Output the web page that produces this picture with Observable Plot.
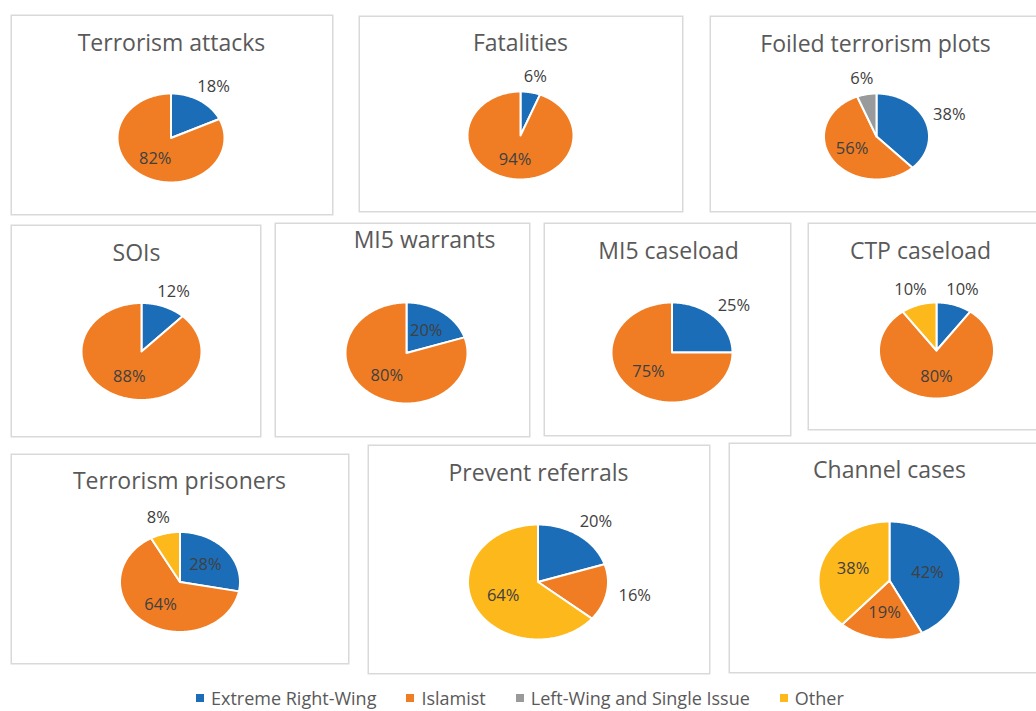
<!DOCTYPE html>
<html><head><meta charset="utf-8">
<script src="https://cdn.jsdelivr.net/npm/d3@7"></script>
<script src="https://cdn.jsdelivr.net/npm/@observablehq/plot@0.6"></script>
<style>
html,body{margin:0;padding:0;background:#fff;width:1036px;height:711px;overflow:hidden;}
#root{position:relative;width:1036px;height:711px;overflow:hidden;font-family:"Open Sans",sans-serif;}
.box{position:absolute;}
.box svg{display:block;overflow:visible;max-width:none !important;}
.box g[aria-label="title"] text{letter-spacing:0.6px;}
.box g[aria-label="pie label"] text{letter-spacing:1px;}
#legend{position:absolute;left:196px;top:681px;white-space:nowrap;}
.lg-swatch{margin-right:30px !important;}
.lg-swatch > svg{margin-right:7px !important;}
</style></head><body><div id="root"></div>
<script>
// ---- data ----
const categories = ["Extreme Right-Wing", "Islamist", "Left-Wing and Single Issue", "Other"];
const colors = ["#1B6DB7", "#F07D24", "#989A9B", "#FDB81C"];
const chartTitles = ["Terrorism attacks", "Fatalities", "Foiled terrorism plots", "SOIs", "MI5 warrants",
  "MI5 caseload", "CTP caseload", "Terrorism prisoners", "Prevent referrals", "Channel cases"];
// shares (%) per chart, null = category not shown
const extremeRightWing    = [18,  6, 38, 12, 20, 25, 10, 28, 20, 42];
const islamist            = [82, 94, 56, 88, 80, 75, 80, 64, 16, 19];
const leftWingSingleIssue = [null, null, 6, null, null, null, null, null, null, null];
const other               = [null, null, null, null, null, null, 10, 8, 64, 38];
const series = [extremeRightWing, islamist, leftWingSingleIssue, other];

// ---- layout (page pixels): box [x,y,w,h], pie [cx,cy,rx,ry], title centre, outside-label flags ----
const layout = [
  {box:[10,14,323,201],  pie:[170.5,137.5,53.5,44.5], title:[171,43],  outside:[1,0,1,1]},
  {box:[358,15,325,197], pie:[520,135,53,44],         title:[520,43],  outside:[1,0,1,1]},
  {box:[709,15,340,197], pie:[876,136,52.5,43],       title:[875,44],  outside:[1,0,1,1]},
  {box:[10,224,251,213], pie:[141,351,60,48.5],       title:[136,253], outside:[1,0,1,1]},
  {box:[274,222,256,215],pie:[406,352.5,61,50.5],     title:[424,240], outside:[0,0,1,1]},
  {box:[543,222,248,214],pie:[671.5,352,60.5,50],     title:[668,251], outside:[1,0,1,1]},
  {box:[807,222,245,208],pie:[936,350,57.5,48],       title:[920,251], outside:[1,0,1,1]},
  {box:[10,453,339,211], pie:[179.5,581.5,60,50],     title:[179,481], outside:[0,0,1,1]},
  {box:[367,444,343,230],pie:[537.5,581.5,70,57.5],   title:[538,473], outside:[1,1,1,0]},
  {box:[728,442,325,231],pie:[889,580,71,59],         title:[889,470], outside:[0,0,0,0]}
];

const root = document.getElementById("root");

layout.forEach((L, i) => {
  const [bx, by, bw, bh] = L.box;
  const [cx, cy, rx, ry] = L.pie;
  const rcx = cx - bx, rcy = cy - by;
  const vals = categories.map((c, k) => ({cat: c, k, value: series[k][i]})).filter(d => d.value != null);
  const arcs = d3.pie().sort(null).value(d => d.value)(vals);
  const poly = [];
  arcs.forEach(a => {
    const n = Math.max(3, Math.ceil((a.endAngle - a.startAngle) / (Math.PI / 180)));
    poly.push({cat: a.data.cat, x: 0, y: 0});
    for (let j = 0; j <= n; j++) {
      const t = a.startAngle + (a.endAngle - a.startAngle) * j / n;
      poly.push({cat: a.data.cat, x: Math.sin(t), y: Math.cos(t)});
    }
    poly.push({cat: a.data.cat, x: 0, y: 0});
  });
  const labels = arcs.map(a => {
    const m = (a.startAngle + a.endAngle) / 2, s = Math.sin(m), c = Math.cos(m);
    let x, y;
    if (L.outside[a.data.k]) {
      x = 1.15 * s + (18 / rx) * s;
      y = 1.15 * c + (9 / ry) * c;
    } else {
      x = 0.55 * s; y = 0.55 * c;
    }
    return {x, y, text: a.data.value + "%"};
  });
  const chart = Plot.plot({
    width: bw, height: bh, margin: 0,
    style: {fontFamily: "'Open Sans', sans-serif", background: "transparent"},
    x: {domain: [-rcx / rx, (bw - rcx) / rx], axis: null},
    y: {domain: [-(bh - rcy) / ry, rcy / ry], axis: null},
    color: {domain: categories, range: colors},
    marks: [
      Plot.frame({stroke: "#d9d9d9", strokeWidth: 1.5, inset: 0.75}),
      Plot.line(poly, {x: "x", y: "y", z: "cat", fill: "cat", stroke: "white", strokeWidth: 2, strokeLinejoin: "round", curve: "linear"}),
      Plot.text(labels, {x: "x", y: "y", text: "text", fontSize: 16.5, fill: "#404040", textAnchor: "middle", lineAnchor: "middle", ariaLabel: "pie label"}),
      Plot.text([chartTitles[i]], {frameAnchor: "top-left", dx: L.title[0] - bx, dy: L.title[1] - by, textAnchor: "middle", lineAnchor: "middle", fontSize: 23, fill: "#595959", ariaLabel: "title"})
    ]
  });
  const div = document.createElement("div");
  div.className = "box";
  div.style.left = bx + "px"; div.style.top = by + "px";
  div.style.width = bw + "px"; div.style.height = bh + "px";
  div.appendChild(chart);
  root.appendChild(div);
});

const legend = Plot.legend({
  color: {domain: categories, range: colors},
  legend: "swatches", swatchSize: 8, className: "lg",
  style: {fontSize: "18px", fontFamily: "'Open Sans', sans-serif", color: "#595959"}
});
const ldiv = document.createElement("div");
ldiv.id = "legend";
ldiv.appendChild(legend);
root.appendChild(ldiv);
</script></body></html>
